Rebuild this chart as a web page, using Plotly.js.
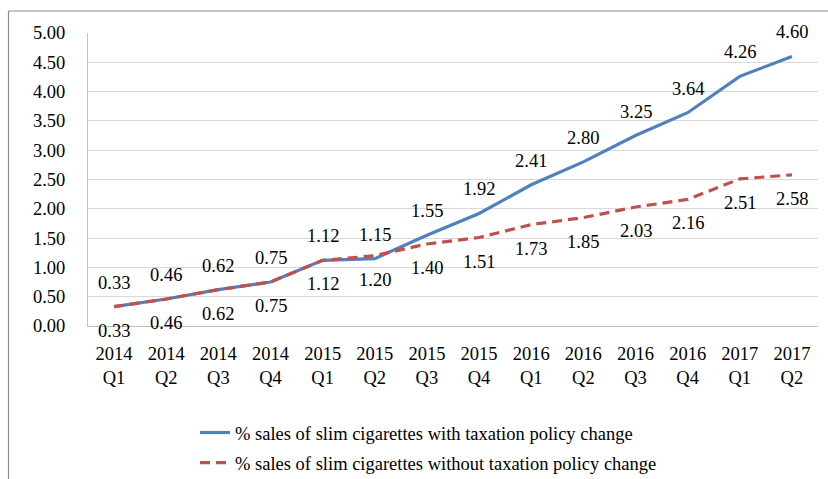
<!DOCTYPE html>
<html>
<head>
<meta charset="utf-8">
<script src="https://cdn.plot.ly/plotly-3.0.1.min.js"></script>
<style>html,body{margin:0;padding:0;background:#fff;}#chart{width:828px;height:479px;}</style>
</head>
<body>
<div id="chart"></div>
<script>
const categories = ["2014<br>Q1","2014<br>Q2","2014<br>Q3","2014<br>Q4","2015<br>Q1","2015<br>Q2","2015<br>Q3","2015<br>Q4","2016<br>Q1","2016<br>Q2","2016<br>Q3","2016<br>Q4","2017<br>Q1","2017<br>Q2"];
const withChange = [0.33,0.46,0.62,0.75,1.12,1.15,1.55,1.92,2.41,2.80,3.25,3.64,4.26,4.60];
const withoutChange = [0.33,0.46,0.62,0.75,1.12,1.20,1.40,1.51,1.73,1.85,2.03,2.16,2.51,2.58];
const yTicks = [0,0.5,1,1.5,2,2.5,3,3.5,4,4.5,5];
const names = ["% sales of slim cigarettes with taxation policy change","% sales of slim cigarettes without taxation policy change"];

const FONT = "Liberation Serif, Tinos, Times New Roman, Times, DejaVu Serif, Noto Serif, serif";
const FS = 18.5;
const W = 828, H = 479;
const L = 88, R = 818, T = 33, B = 326;
const px = x => (x - L) / (R - L);
const py = y => (B - y) / (B - T);

const traces = [
  {x: categories, y: withChange, name: names[0], type: "scatter", mode: "lines",
   line: {color: "#4F81BD", width: 3.2}, legendgroup: "a"},
  {x: categories, y: withoutChange, name: names[1], type: "scatter", mode: "lines",
   line: {color: "#C0504D", width: 3.2, dash: "10px,6px"}, legendgroup: "b"}
];

const annotations = [];
categories.forEach((c, i) => {
  annotations.push({x: c, y: withChange[i], text: withChange[i].toFixed(2), showarrow: false,
    yshift: 24, font: {family: FONT, size: FS, color: "#000"}});
  annotations.push({x: c, y: withoutChange[i], text: withoutChange[i].toFixed(2), showarrow: false,
    yshift: -24, font: {family: FONT, size: FS, color: "#000"}});
});

const layout = {
  width: W, height: H,
  margin: {l: L, r: W - R, t: T, b: H - B, pad: 0, autoexpand: false},
  paper_bgcolor: "#fff", plot_bgcolor: "#fff",
  font: {family: FONT, size: FS, color: "#000"},
  showlegend: true,
  legend: {xref: "container", yref: "container", x: 195 / W, xanchor: "left", y: 1 - 414 / H, yanchor: "top",
    font: {family: FONT, size: FS, color: "#000"}, tracegroupgap: 3, bgcolor: "rgba(0,0,0,0)"},
  xaxis: {type: "category", range: [-0.5, 13.5], showgrid: false, zeroline: false,
    showline: true, linecolor: "#BFBFBF", linewidth: 1, ticks: "", ticklabelstandoff: 11,
    tickfont: {family: FONT, size: FS, color: "#000"}, fixedrange: true, automargin: false},
  yaxis: {range: [0, 5], tickvals: yTicks, ticktext: yTicks.map(v => v.toFixed(2)),
    showgrid: true, gridcolor: "#D9D9D9", gridwidth: 1, zeroline: false,
    showline: true, linecolor: "#BFBFBF", linewidth: 1, ticks: "", ticklabelstandoff: 18,
    tickfont: {family: FONT, size: FS, color: "#000"}, fixedrange: true, automargin: false},
  annotations: annotations,
  shapes: [
    {type: "line", xref: "paper", yref: "paper", x0: px(8.5), x1: px(828), y0: py(11), y1: py(11),
     line: {color: "#8C8C8C", width: 1.2}},
    {type: "line", xref: "paper", yref: "paper", x0: px(8.5), x1: px(8.5), y0: py(11), y1: py(479),
     line: {color: "#8C8C8C", width: 1.2}}
  ]
};

Plotly.newPlot("chart", traces, layout, {displayModeBar: false, staticPlot: true});
</script>
</body>
</html>
